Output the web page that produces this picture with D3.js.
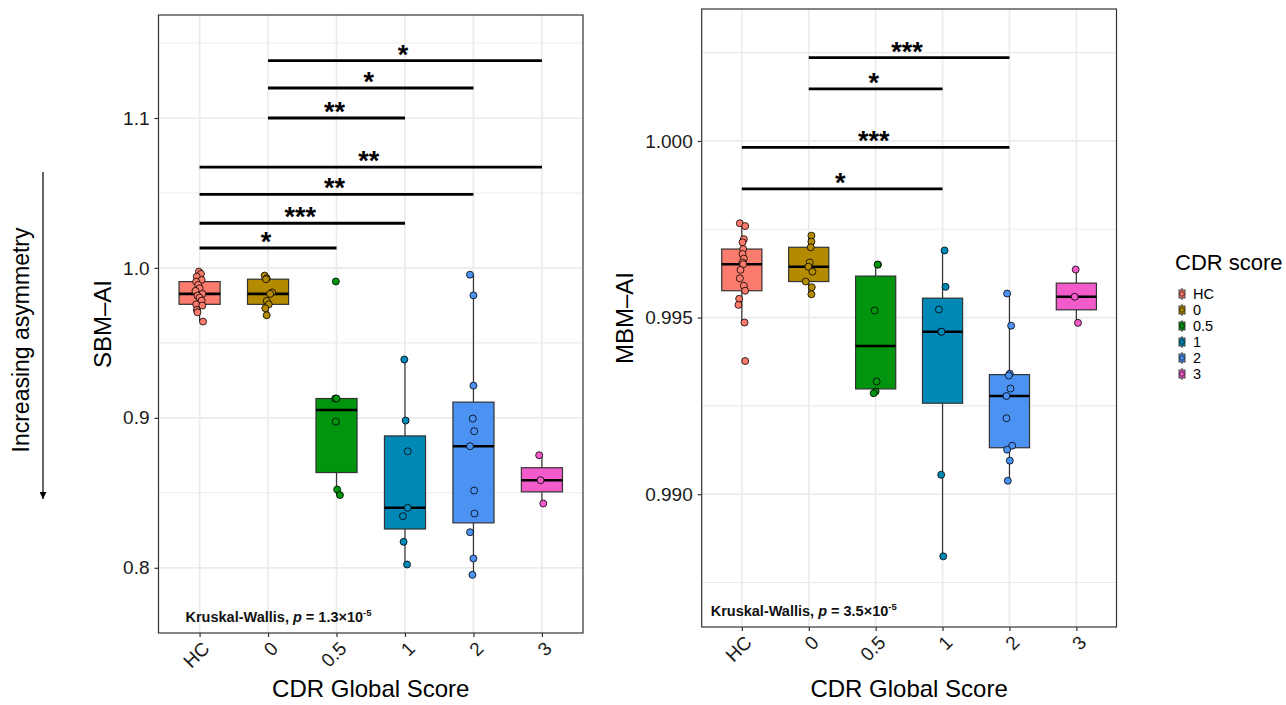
<!DOCTYPE html>
<html>
<head>
<meta charset="utf-8">
<script src="https://cdn.jsdelivr.net/npm/d3@7/dist/d3.min.js"></script>
<style>
body { margin: 0; background: #fff; }
svg { display: block; font-family: "Liberation Sans", Arial, Helvetica, sans-serif; }
</style>
</head>
<body>
<svg id="chart" width="1286" height="705"></svg>
<script>
// groups (CDR global score)
const categories = ['HC', '0', '0.5', '1', '2', '3'];
const groupColors = ['#FB7B6C', '#B48A00', '#00940F', '#0088B7', '#4B92F3', '#F45BCA'];

// SBM-AI values per group, and the horizontal jitter of each point (fraction of a category step)
const sbmValues = [
    [0.99753, 0.9960, 0.9942, 0.9920, 0.99087, 0.98867, 0.98642, 0.98467, 0.98267, 0.9815, 0.9802, 0.9782, 0.97573, 0.9749, 0.9720, 0.9704, 0.9642],
    [0.9949, 0.9931, 0.9925, 0.9837, 0.9827, 0.9780, 0.9757, 0.9731, 0.9684],
    [0.991, 0.9129, 0.9129, 0.8975, 0.8522, 0.8485],
    [0.9389, 0.8982, 0.8777, 0.8400, 0.8344, 0.8173, 0.8022],
    [0.9955, 0.9817, 0.9215, 0.8995, 0.8911, 0.8811, 0.8515, 0.8362, 0.8237, 0.8062, 0.7953],
    [0.87507, 0.8584, 0.84287]
];
const sbmJitter = [
    [-0.01, 0.02, -0.04, 0.03, -0.05, -0.02, 0.0, -0.06, 0.04, -0.03, 0.0, 0.03, -0.05, 0.04, -0.04, -0.03, 0.05],
    [-0.05, -0.02, -0.03, 0.06, 0.03, -0.02, 0.01, -0.04, -0.02],
    [-0.01, -0.02, 0.0, -0.01, 0.01, 0.05],
    [-0.01, 0.01, 0.04, 0.04, -0.03, -0.02, 0.03],
    [-0.05, 0.0, 0.0, -0.01, 0.01, -0.05, 0.01, 0.015, -0.05, 0.0, -0.015],
    [-0.04, -0.02, 0.02]
];

// MBM-AI values per group and jitter
const mbmValues = [
    [0.99767, 0.99759, 0.99722, 0.99713, 0.99694, 0.99680, 0.99667, 0.99656, 0.99651, 0.99635, 0.99611, 0.99590, 0.99576, 0.99553, 0.99536, 0.99486, 0.99377],
    [0.99732, 0.99715, 0.99699, 0.99656, 0.99644, 0.99630, 0.99602, 0.99586, 0.99566],
    [0.99650, 0.99650, 0.99520, 0.99319, 0.99291, 0.99286],
    [0.99690, 0.99587, 0.99523, 0.99460, 0.99460, 0.99055, 0.98824],
    [0.99568, 0.99477, 0.99341, 0.99336, 0.99299, 0.99278, 0.99215, 0.99137, 0.99126, 0.99095, 0.99038],
    [0.99636, 0.99559, 0.99485]
];
const mbmJitter = [
    [-0.03, 0.05, 0.03, 0.01, 0.02, 0.01, 0.03, 0.01, 0.02, -0.02, -0.03, 0.03, 0.05, -0.04, -0.05, 0.04, 0.05],
    [0.04, 0.04, 0.03, 0.015, -0.005, 0.055, -0.045, 0.045, 0.04],
    [0.035, 0.03, -0.015, 0.015, 0.0, -0.03],
    [0.03, 0.045, -0.055, -0.02, -0.015, -0.02, 0.01],
    [-0.035, 0.025, 0.005, -0.01, 0.015, -0.045, -0.045, 0.04, -0.035, 0.005, -0.025],
    [-0.01, -0.025, 0.025]
];

// pairwise comparisons with bracket heights and significance labels
const sbmPairs = [['HC', '0.5'], ['HC', '1'], ['HC', '2'], ['HC', '3'], ['0', '1'], ['0', '2'], ['0', '3']];
const sbmBracketY = [1.0133, 1.0298, 1.0491, 1.0673, 1.1, 1.12, 1.1383];
const sbmStars = ['*', '***', '**', '**', '**', '*', '*'];
const mbmPairs = [['HC', '1'], ['HC', '2'], ['0', '1'], ['0', '2']];
const mbmBracketY = [0.998642, 0.99982, 1.001472, 1.002357];
const mbmStars = ['*', '***', '*', '***'];

// axes
const sbmTicks = [0.8, 0.9, 1.0, 1.1];
const sbmMinor = [0.85, 0.95, 1.05, 1.15];
const mbmTicks = [0.990, 0.995, 1.000];
const mbmMinor = [0.9875, 0.9925, 0.9975, 1.0025];

const svg = d3.select('#chart');
svg.append('rect').attr('width', 1286).attr('height', 705).attr('fill', '#fff');

const boxStats = vals => {
    const s = vals.slice().sort(d3.ascending);
    const q1 = d3.quantile(s, 0.25);
    const med = d3.quantile(s, 0.5);
    const q3 = d3.quantile(s, 0.75);
    const iqr = q3 - q1;
    // whiskers reach the furthest point inside 1.5 IQR
    const lo = d3.min(s.filter(v => v >= q1 - 1.5 * iqr));
    const hi = d3.max(s.filter(v => v <= q3 + 1.5 * iqr));
    return {q1, med, q3, lo, hi};
};

const drawPanel = p => {
    const g = svg.append('g');
    const x = d3.scalePoint().domain(categories).range([p.left, p.right]).padding(0.6);
    const y = d3.scaleLinear().domain(p.domain).range([p.bottom, p.top]);
    const step = x.step();
    const boxW = step * 0.6;

    // grid
    g.selectAll('line.minor').data(p.minor).enter().append('line')
        .attr('x1', p.left).attr('x2', p.right)
        .attr('y1', d => y(d)).attr('y2', d => y(d))
        .attr('stroke', '#ebebeb').attr('stroke-width', 1.1);
    g.selectAll('line.majorY').data(p.ticks).enter().append('line')
        .attr('x1', p.left).attr('x2', p.right)
        .attr('y1', d => y(d)).attr('y2', d => y(d))
        .attr('stroke', '#ebebeb').attr('stroke-width', 1.7);
    g.selectAll('line.majorX').data(categories).enter().append('line')
        .attr('x1', d => x(d)).attr('x2', d => x(d))
        .attr('y1', p.top).attr('y2', p.bottom)
        .attr('stroke', '#ebebeb').attr('stroke-width', 1.7);

    // boxes
    categories.forEach((c, i) => {
        const st = boxStats(p.values[i]);
        const cx = x(c);
        const bg = g.append('g');
        bg.append('line')
            .attr('x1', cx).attr('x2', cx).attr('y1', y(st.hi)).attr('y2', y(st.q3))
            .attr('stroke', '#333').attr('stroke-width', 1.2);
        bg.append('line')
            .attr('x1', cx).attr('x2', cx).attr('y1', y(st.q1)).attr('y2', y(st.lo))
            .attr('stroke', '#333').attr('stroke-width', 1.2);
        bg.append('rect')
            .attr('x', cx - boxW / 2).attr('width', boxW)
            .attr('y', y(st.q3)).attr('height', y(st.q1) - y(st.q3))
            .attr('fill', groupColors[i]).attr('stroke', '#333').attr('stroke-width', 1.2);
        bg.append('line')
            .attr('x1', cx - boxW / 2).attr('x2', cx + boxW / 2)
            .attr('y1', y(st.med)).attr('y2', y(st.med))
            .attr('stroke', '#000').attr('stroke-width', 2.6);
    });

    // jittered points
    categories.forEach((c, i) => {
        g.selectAll(null).data(p.values[i]).enter().append('circle')
            .attr('cx', (d, j) => x(c) + p.jitter[i][j] * step)
            .attr('cy', d => y(d))
            .attr('r', 3.5)
            .attr('fill', groupColors[i])
            .attr('stroke', '#000').attr('stroke-width', 0.8);
    });

    // significance brackets
    p.pairs.forEach((pr, i) => {
        const yy = y(p.bracketY[i]);
        g.append('line')
            .attr('x1', x(pr[0])).attr('x2', x(pr[1]))
            .attr('y1', yy).attr('y2', yy)
            .attr('stroke', '#000').attr('stroke-width', 2.8);
        g.append('text')
            .attr('x', (x(pr[0]) + x(pr[1])) / 2 - 2).attr('y', yy + 3)
            .attr('text-anchor', 'middle')
            .attr('font-size', 27).attr('font-weight', 'bold')
            .text(p.stars[i]);
    });

    // Kruskal-Wallis label
    const kw = g.append('text')
        .attr('x', p.left + p.kwDx).attr('y', p.bottom - 11)
        .attr('font-size', 14.5).attr('font-weight', 'bold').attr('fill', '#111');
    kw.append('tspan').text('Kruskal-Wallis, ');
    kw.append('tspan').attr('font-style', 'italic').text('p');
    kw.append('tspan').text(' = ' + p.kwP + '×10');
    kw.append('tspan').attr('font-size', 9.5).attr('dy', -6).text('-5');

    // panel border
    g.append('rect')
        .attr('x', p.left).attr('y', p.top)
        .attr('width', p.right - p.left).attr('height', p.bottom - p.top)
        .attr('fill', 'none').attr('stroke', '#333').attr('stroke-width', 1.2);

    // y axis
    const ya = g.append('g').attr('transform', `translate(${p.left},0)`)
        .call(d3.axisLeft(y).tickValues(p.ticks).tickFormat(d3.format(p.fmt)).tickSize(4).tickPadding(5));
    ya.select('.domain').remove();
    ya.selectAll('line').attr('stroke', '#333').attr('stroke-width', 1.2);
    ya.selectAll('text').attr('font-size', 19).attr('fill', '#1a1a1a')
        .attr('font-family', '"Liberation Sans", Arial, sans-serif');

    // x axis
    const xa = g.append('g').attr('transform', `translate(0,${p.bottom})`)
        .call(d3.axisBottom(x).tickSize(4).tickPadding(0));
    xa.select('.domain').remove();
    xa.selectAll('line').attr('stroke', '#333').attr('stroke-width', 1.2);
    xa.selectAll('text')
        .attr('font-size', 19).attr('fill', '#1a1a1a')
        .attr('font-family', '"Liberation Sans", Arial, sans-serif')
        .attr('text-anchor', 'end')
        .attr('y', 0).attr('dy', '0.72em')
        .attr('transform', 'translate(1,7) rotate(-45)');

    // axis titles
    g.append('text')
        .attr('x', (p.left + p.right) / 2).attr('y', 697)
        .attr('text-anchor', 'middle').attr('font-size', 24)
        .text('CDR Global Score');
    g.append('text')
        .attr('transform', `translate(${p.yTitleX},${(p.top + p.bottom) / 2}) rotate(-90)`)
        .attr('text-anchor', 'middle').attr('font-size', 24)
        .text(p.yTitle);
};

drawPanel({
    left: 158.5, right: 583, top: 15, bottom: 633,
    domain: [0.7565, 1.1687], ticks: sbmTicks, minor: sbmMinor, fmt: '.1f',
    values: sbmValues, jitter: sbmJitter,
    pairs: sbmPairs, bracketY: sbmBracketY, stars: sbmStars,
    yTitle: 'SBM\u2013AI', yTitleX: 111, kwDx: 27, kwP: '1.3'
});

drawPanel({
    left: 701.7, right: 1116.5, top: 9, bottom: 627,
    domain: [0.98624, 1.003736], ticks: mbmTicks, minor: mbmMinor, fmt: '.3f',
    values: mbmValues, jitter: mbmJitter,
    pairs: mbmPairs, bracketY: mbmBracketY, stars: mbmStars,
    yTitle: 'MBM\u2013AI', yTitleX: 633, kwDx: 9, kwP: '3.5'
});

// "Increasing asymmetry" annotation with arrow
svg.append('defs').append('marker')
    .attr('id', 'arrowhead').attr('viewBox', '0 0 10 10')
    .attr('refX', 10).attr('refY', 5)
    .attr('markerWidth', 7).attr('markerHeight', 7)
    .attr('markerUnits', 'userSpaceOnUse')
    .attr('orient', 'auto')
    .append('path').attr('d', 'M0,0 L10,5 L0,10 Z').attr('fill', '#000');
svg.append('line')
    .attr('x1', 43).attr('x2', 43).attr('y1', 172).attr('y2', 499)
    .attr('stroke', '#000').attr('stroke-width', 1.2)
    .attr('marker-end', 'url(#arrowhead)');
svg.append('text')
    .attr('transform', 'translate(29,340) rotate(-90)')
    .attr('text-anchor', 'middle').attr('font-size', 23)
    .text('Increasing asymmetry');

// legend
const legend = svg.append('g').attr('transform', 'translate(1175,0)');
legend.append('text').attr('x', 0).attr('y', 270).attr('font-size', 22).text('CDR score');
const rowY = d3.scalePoint().domain(categories).range([294, 374]);
categories.forEach((c, i) => {
    const ky = rowY(c);
    const item = legend.append('g').attr('transform', `translate(7,${ky})`);
    item.append('line').attr('y1', -6).attr('y2', 6).attr('stroke', '#333').attr('stroke-width', 1);
    item.append('rect').attr('x', -3).attr('y', -4).attr('width', 6).attr('height', 8)
        .attr('fill', groupColors[i]).attr('stroke', '#333').attr('stroke-width', 0.9);
    item.append('circle').attr('r', 2.3).attr('fill', groupColors[i])
        .attr('stroke', '#000').attr('stroke-width', 0.6);
    legend.append('text').attr('x', 18).attr('y', ky).attr('dy', '0.36em')
        .attr('font-size', 14.5).text(c);
});
</script>
</body>
</html>
